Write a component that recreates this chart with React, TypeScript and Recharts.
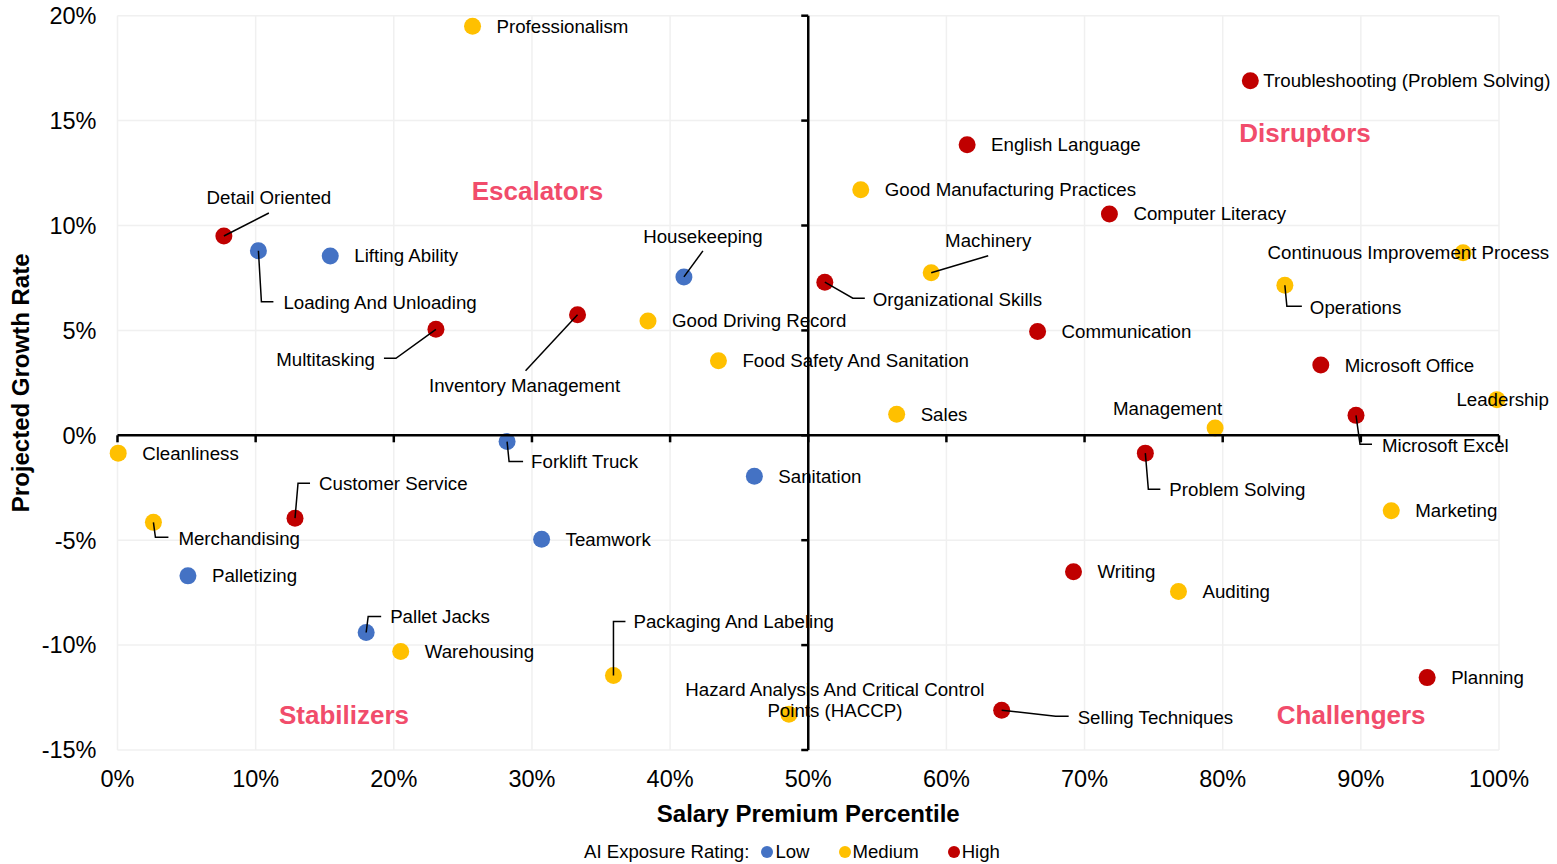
import { ScatterChart, Scatter, XAxis, YAxis, CartesianGrid, ReferenceLine, ReferenceDot, LabelList } from 'recharts'

// skills
const skills = [
  'Professionalism',
  'Troubleshooting (Problem Solving)',
  'English Language',
  'Good Manufacturing Practices',
  'Computer Literacy',
  'Continuous Improvement Process',
  'Detail Oriented',
  'Loading And Unloading',
  'Lifting Ability',
  'Housekeeping',
  'Machinery',
  'Organizational Skills',
  'Operations',
  'Multitasking',
  'Inventory Management',
  'Good Driving Record',
  'Communication',
  'Food Safety And Sanitation',
  'Microsoft Office',
  'Leadership',
  'Sales',
  'Microsoft Excel',
  'Management',
  'Cleanliness',
  'Forklift Truck',
  'Problem Solving',
  'Sanitation',
  'Customer Service',
  'Merchandising',
  'Teamwork',
  'Marketing',
  'Palletizing',
  'Writing',
  'Auditing',
  'Pallet Jacks',
  'Warehousing',
  'Packaging And Labeling',
  'Planning',
  'Hazard Analysis And Critical Control Points (HACCP)',
  'Selling Techniques',
]

const salaryPct = [
  25.7, 82.0, 61.5, 53.8, 71.8, 97.4, 7.7, 10.2, 15.4, 41.0,
  58.9, 51.2, 84.5, 23.05, 33.3, 38.4, 66.6, 43.5, 87.1, 99.85,
  56.4, 89.65, 79.45, 0.05, 28.2, 74.4, 46.1, 12.85, 2.6, 30.7,
  92.2, 5.1, 69.2, 76.8, 18.0, 20.5, 35.9, 94.8, 48.6, 64.0,
]

const growthPct = [
  19.5, 16.9, 13.85, 11.7, 10.55, 8.7, 9.5, 8.8, 8.55, 7.55,
  7.75, 7.3, 7.15, 5.05, 5.75, 5.45, 4.95, 3.55, 3.35, 1.7,
  1.0, 0.95, 0.35, -0.85, -0.3, -0.85, -1.95, -3.95, -4.15, -4.95,
  -3.6, -6.7, -6.5, -7.45, -9.4, -10.3, -11.45, -11.55, -13.3, -13.1,
]

const exposure = [
  'Medium', 'High', 'High', 'Medium', 'High', 'Medium', 'High', 'Low', 'Low', 'Low',
  'Medium', 'High', 'Medium', 'High', 'High', 'Medium', 'High', 'Medium', 'High', 'Medium',
  'Medium', 'High', 'Medium', 'Medium', 'Low', 'High', 'Low', 'High', 'Medium', 'Low',
  'Medium', 'Low', 'High', 'Medium', 'Low', 'Medium', 'Medium', 'High', 'Medium', 'High',
]

const ratings = ['Low', 'Medium', 'High']
const xTicks = [0, 10, 20, 30, 40, 50, 60, 70, 80, 90, 100]
const yTicks = [-15, -10, -5, 0, 5, 10, 15, 20]
const quadrants = ['Escalators', 'Disruptors', 'Stabilizers', 'Challengers']

// ---- styling / layout ----
const FONT = "'Liberation Sans', Arial, sans-serif"
const ratingColors: Record<string, string> = { Low: '#4472C4', Medium: '#FFC000', High: '#C00000' }
const QUAD_COLOR = '#F14C6B'
const DOT_R = 8.5
const LABEL_SIZE = 18.7
const TICK_SIZE = 23.5

// where each quadrant title sits (data coords)
const quadrantPos: Record<string, [number, number]> = {
  Escalators: [30.4, 11.64],
  Disruptors: [85.96, 14.41],
  Stabilizers: [16.4, -13.33],
  Challengers: [89.3, -13.33],
}

type LabelLayout = {
  dx: number
  dy: number
  anchor?: 'start' | 'middle' | 'end'
  leader?: [number, number][]
  lines?: string[]
}

// label offsets relative to the dot centre, px
const labelLayout: Record<string, LabelLayout> = {
  'Troubleshooting (Problem Solving)': { dx: 13, dy: 0 },
  'Continuous Improvement Process': { dx: 86, dy: 0, anchor: 'end' },
  Leadership: { dx: 52, dy: 0, anchor: 'end' },
  Management: { dx: 7, dy: -19, anchor: 'end' },
  'Detail Oriented': { dx: 45, dy: -38, anchor: 'middle', leader: [[0, 0], [45, -23]] },
  'Loading And Unloading': { dx: 25, dy: 52, leader: [[0, 0], [3, 51], [15, 51]] },
  Housekeeping: { dx: 19, dy: -40, anchor: 'middle', leader: [[0, 0], [19, -26]] },
  Machinery: { dx: 57, dy: -32, anchor: 'middle', leader: [[0, 0], [57, -17]] },
  'Organizational Skills': { dx: 48, dy: 17, leader: [[0, 0], [28, 16], [40, 16]] },
  Operations: { dx: 25, dy: 22, leader: [[0, 0], [2, 21], [17, 21]] },
  Multitasking: { dx: -61, dy: 30, anchor: 'end', leader: [[0, 0], [-40, 29], [-52, 29]] },
  'Inventory Management': { dx: -53, dy: 71, anchor: 'middle', leader: [[0, 0], [-52, 56]] },
  'Forklift Truck': { dx: 24, dy: 20, leader: [[0, 0], [2, 20], [16, 20]] },
  'Customer Service': { dx: 24, dy: -35, leader: [[0, 0], [3, -35], [15, -35]] },
  Merchandising: { dx: 25, dy: 16, leader: [[0, 0], [2, 15], [15, 15]] },
  'Microsoft Excel': { dx: 26, dy: 30, leader: [[0, 0], [4, 29], [16, 29]] },
  'Problem Solving': { dx: 24, dy: 36, leader: [[0, 0], [3, 36], [15, 36]] },
  'Pallet Jacks': { dx: 24, dy: -16, leader: [[0, 0], [2, -16], [15, -16]] },
  'Packaging And Labeling': { dx: 20, dy: -54, leader: [[0, 0], [0, -54], [12, -54]] },
  'Hazard Analysis And Critical Control Points (HACCP)': {
    dx: 46, dy: -25, anchor: 'middle',
    lines: ['Hazard Analysis And Critical Control', 'Points (HACCP)'],
  },
  'Selling Techniques': { dx: 76, dy: 7, leader: [[0, 0], [54, 6], [67, 6]] },
}
const defaultLayout: LabelLayout = { dx: 24, dy: 0 }

const rows = skills.map((name, i) => ({ name, x: salaryPct[i], y: growthPct[i], rating: exposure[i] }))

function SkillLabel(props: any) {
  const vb = props.viewBox || props
  const cx = vb.x + vb.width / 2
  const cy = vb.y + vb.height / 2
  const name = String(props.value)
  const l = labelLayout[name] || defaultLayout
  const lines = l.lines || [name]
  return (
    <g>
      {l.leader && (
        <polyline
          points={l.leader.map(([px, py]) => `${cx + px},${cy + py}`).join(' ')}
          fill="none"
          stroke="#000"
          strokeWidth={1.5}
        />
      )}
      {lines.map((line, i) => (
        <text
          key={i}
          x={cx + l.dx}
          y={cy + l.dy + i * 21}
          textAnchor={l.anchor || 'start'}
          dominantBaseline="central"
          fontSize={LABEL_SIZE}
          fill="#000"
          fontFamily={FONT}
        >
          {line}
        </text>
      ))}
    </g>
  )
}

// bold horizontal axis through 0% growth, ticks hanging down
function ZeroAxis(props: any) {
  const { x1, y1, x2 } = props
  const n = xTicks.length - 1
  return (
    <g>
      <line x1={x1} y1={y1} x2={x2} y2={y1} stroke="#000" strokeWidth={2.5} />
      {xTicks.map((t, i) => {
        const x = x1 + ((x2 - x1) * i) / n
        return <line key={t} x1={x} x2={x} y1={y1} y2={y1 + 7} stroke="#000" strokeWidth={2.5} />
      })}
    </g>
  )
}

// bold vertical axis through the 50th percentile, ticks pointing left
function MidAxis(props: any) {
  const { x1, y1, y2 } = props
  const n = yTicks.length - 1
  return (
    <g>
      <line x1={x1} y1={y1} x2={x1} y2={y2} stroke="#000" strokeWidth={2.5} />
      {yTicks.map((t, i) => {
        const y = y1 + ((y2 - y1) * i) / n
        return <line key={t} x1={x1 - 7} x2={x1} y1={y} y2={y} stroke="#000" strokeWidth={2.5} />
      })}
    </g>
  )
}

export default function App() {
  return (
    <div style={{ position: 'absolute', left: 0, top: 0, width: 1557, height: 864, fontFamily: FONT, background: '#fff' }}>
      <ScatterChart width={1557} height={864} margin={{ top: 15.7, right: 58, bottom: 84, left: 57.5 }}>
        <CartesianGrid stroke="#f0f0f0" strokeWidth={1.5} />
        <XAxis
          type="number"
          dataKey="x"
          domain={[0, 100]}
          ticks={xTicks}
          interval={0}
          tickFormatter={(v) => `${v}%`}
          axisLine={false}
          tickLine={false}
          tickSize={0}
          tickMargin={20}
          height={30}
          tick={{ fontSize: TICK_SIZE, fill: '#000' }}
          label={{ value: 'Salary Premium Percentile', position: 'bottom', offset: 25, fontSize: 24, fontWeight: 'bold', fill: '#000' }}
        />
        <YAxis
          type="number"
          dataKey="y"
          domain={[-15, 20]}
          ticks={yTicks}
          interval={0}
          tickFormatter={(v) => `${v}%`}
          axisLine={false}
          tickLine={false}
          tickSize={0}
          tickMargin={21}
          width={60}
          tick={{ fontSize: TICK_SIZE, fill: '#000' }}
          label={{
            content: ({ viewBox }: any) => {
              const cy = viewBox.y + viewBox.height / 2
              return (
                <text
                  x={21}
                  y={cy}
                  transform={`rotate(-90, 21, ${cy})`}
                  textAnchor="middle"
                  dominantBaseline="central"
                  fontSize={24}
                  fontWeight="bold"
                  fill="#000"
                  fontFamily={FONT}
                >
                  Projected Growth Rate
                </text>
              )
            },
          }}
        />
        {quadrants.map((q) => (
          <ReferenceDot
            key={q}
            x={quadrantPos[q][0]}
            y={quadrantPos[q][1]}
            r={0}
            fill="none"
            stroke="none"
            label={{ value: q, position: 'center', fontSize: 26, fontWeight: 'bold', fill: QUAD_COLOR }}
          />
        ))}
        {ratings.map((r) => (
          <Scatter
            key={r}
            name={r}
            data={rows.filter((d) => d.rating === r)}
            fill={ratingColors[r]}
            isAnimationActive={false}
            shape={(p: any) => <circle cx={p.cx} cy={p.cy} r={DOT_R} fill={ratingColors[r]} />}
          >
            <LabelList dataKey="name" content={SkillLabel} />
          </Scatter>
        ))}
        <ReferenceLine y={0} shape={ZeroAxis} zIndex={2500} />
        <ReferenceLine x={50} shape={MidAxis} zIndex={2500} />
      </ScatterChart>
      <div
        style={{
          position: 'absolute',
          left: 584,
          top: 841,
          height: 22,
          lineHeight: '22px',
          fontSize: 18.6,
          display: 'flex',
          alignItems: 'center',
          color: '#000',
          whiteSpace: 'nowrap',
        }}
      >
        <span>AI Exposure Rating:</span>
        {ratings.map((r, i) => (
          <span key={r} style={{ display: 'flex', alignItems: 'center', marginLeft: i === 0 ? 12 : 29 }}>
            <span style={{ width: 12, height: 12, borderRadius: '50%', background: ratingColors[r], display: 'inline-block', marginRight: 2 }} />
            <span>{r}</span>
          </span>
        ))}
      </div>
    </div>
  )
}
